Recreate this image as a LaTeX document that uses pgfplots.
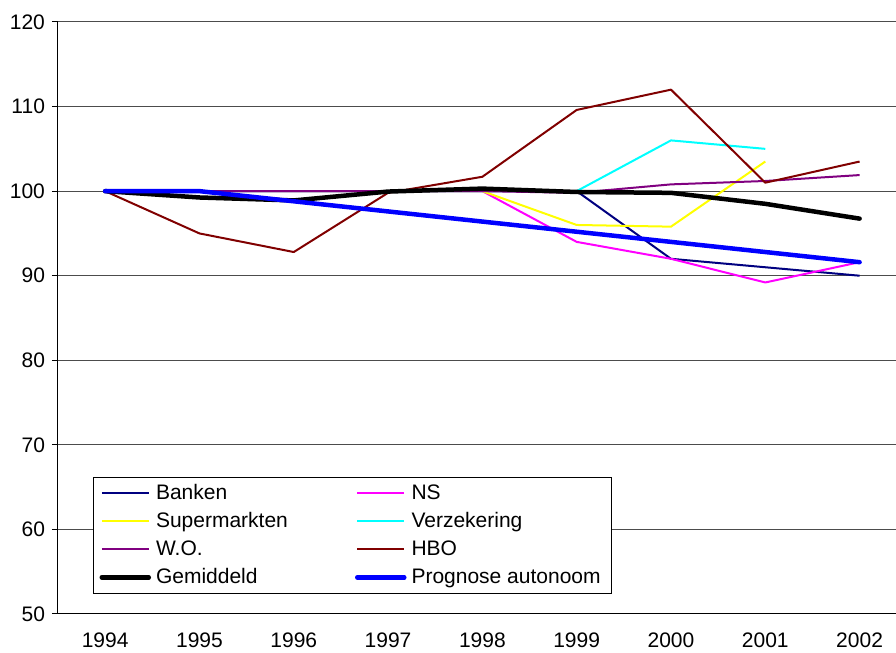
\documentclass[border=0pt]{standalone}
\usepackage{pgfplots}
\pgfplotsset{compat=1.18}
\usepackage{fontspec}
\setmainfont{Liberation Sans}
\definecolor{cBanken}{RGB}{0,0,128}
\definecolor{cNS}{RGB}{255,0,255}
\definecolor{cSuper}{RGB}{255,255,0}
\definecolor{cVerz}{RGB}{0,255,255}
\definecolor{cWO}{RGB}{128,0,128}
\definecolor{cHBO}{RGB}{128,0,0}
\begin{document}
\begin{tikzpicture}
\useasboundingbox (-29pt,-19.5pt) rectangle (419pt,307pt);
\begin{axis}[
  scale only axis, width=419pt, height=296pt,
  xmin=-0.5, xmax=8.386, ymin=50, ymax=120,
  axis x line*=bottom, axis y line*=left,
  axis line style={-, black, line width=0.5pt},
  font=\fontsize{10.5}{12.6}\selectfont,
  /pgf/number format/assume math mode=true,
  xtick={0,1,2,3,4,5,6,7,8},
  xticklabels={1994,1995,1996,1997,1998,1999,2000,2001,2002},
  xticklabel style={yshift=-3pt},
  x tick style={draw=none},
  extra x ticks={-0.5,0.5,1.5,2.5,3.5,4.5,5.5,6.5,7.5},
  extra x tick labels={},
  extra x tick style={grid=none, tick style={draw=black, line width=0.5pt}, major tick length=3pt, tick align=outside},
  ytick={50,60,...,120},
  y tick style={draw=black, line width=0.5pt},
  major tick length=3pt, tick align=outside,
  ymajorgrids, grid style={black!70, line width=0.5pt},
  legend columns=2,
  legend cell align=left,
  legend image code/.code={\draw[#1] (0pt,0pt) -- (23.5pt,0pt);},
  legend style={at={(0.0418,0.0338)}, anchor=south west, draw=black, fill=white,
    line width=0.5pt, font=\fontsize{10.5}{12.6}\selectfont,
    inner xsep=3pt, inner ysep=1pt, row sep=0pt, column sep=0pt,
    nodes={inner xsep=2.5pt, inner ysep=1.5pt, text height=8.5pt, text depth=2.5pt}},
]
\addplot[cBanken, line width=1pt, line join=round] coordinates {(0,100)(1,100)(2,100)(3,100)(4,100)(5,100)(6,92)(7,91)(8,90)};
\addlegendentry{\makebox[97pt][l]{Banken}}
\addplot[cNS, line width=1pt, line join=round] coordinates {(0,100)(1,100)(2,100)(3,100)(4,100)(5,94)(6,92)(7,89.2)(8,91.6)};
\addlegendentry{NS}
\addplot[cSuper, line width=1pt, line join=round] coordinates {(0,100)(1,100)(2,100)(3,100)(4,100)(5,96)(6,95.8)(7,103.5)};
\addlegendentry{\makebox[97pt][l]{Supermarkten}}
\addplot[cVerz, line width=1pt, line join=round] coordinates {(0,100)(1,100)(2,100)(3,100)(4,100)(5,100)(6,106)(7,105)};
\addlegendentry{Verzekering}
\addplot[cWO, line width=1pt, line join=round] coordinates {(0,100)(1,100)(2,100)(3,100)(4,100)(5,99.8)(6,100.8)(7,101.2)(8,101.9)};
\addlegendentry{\makebox[97pt][l]{W.O.}}
\addplot[cHBO, line width=1pt, line join=round] coordinates {(0,100)(1,95)(2,92.8)(3,99.8)(4,101.7)(5,109.6)(6,112)(7,101)(8,103.5)};
\addlegendentry{HBO}
\addplot[black, line width=2.25pt, line join=round, line cap=round] coordinates {(0,100)(1,99.25)(2,98.9)(3,99.95)(4,100.3)(5,99.9)(6,99.8)(7,98.5)(8,96.75)};
\addlegendentry{\makebox[97pt][l]{Gemiddeld}}
\addplot[blue, line width=2.25pt, line join=round, line cap=round] coordinates {(0,100)(1,100)(2,98.8)(3,97.6)(4,96.4)(5,95.2)(6,94)(7,92.8)(8,91.6)};
\addlegendentry{Prognose autonoom}
\end{axis}
\end{tikzpicture}
\end{document}
